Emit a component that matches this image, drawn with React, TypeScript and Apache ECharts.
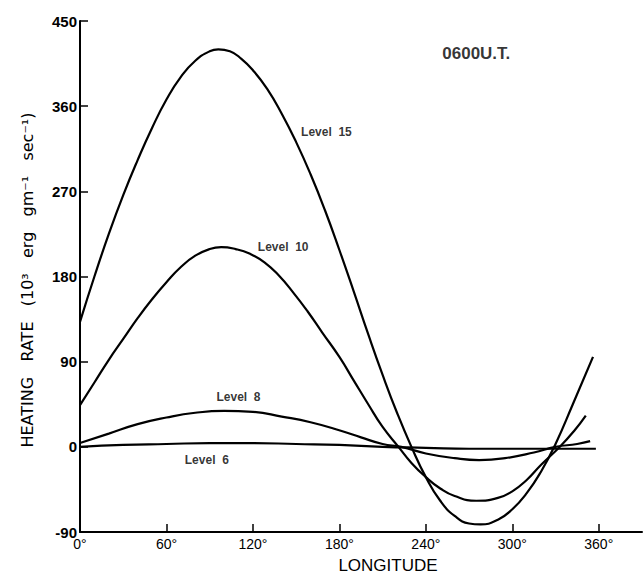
import React, { useEffect, useRef } from "react";
import * as echarts from "echarts";

const xTicks = [0, 60, 120, 180, 240, 300, 360];

const level15: [number, number][] = [
  [0, 132], [10, 180], [20, 225], [30, 266], [40, 303], [50, 337], [60, 367], [70, 391],
  [80, 408], [90, 418], [96, 420], [104, 418], [112, 410], [120, 398], [130, 378],
  [140, 352], [150, 322], [160, 288], [170, 250], [180, 208], [190, 164], [200, 119],
  [210, 76], [220, 36], [230, 0], [240, -32], [250, -57], [260, -73], [270, -81],
  [278, -82], [290, -77], [300, -66], [310, -49], [320, -26], [330, 3], [342, 45],
  [356, 95],
];

const level10: [number, number][] = [
  [0, 44], [10, 68], [20, 92], [30, 114], [40, 136], [50, 156], [60, 174], [70, 190],
  [80, 202], [90, 209], [98, 211], [108, 209], [118, 204], [128, 195], [138, 181],
  [148, 163], [158, 143], [168, 121], [180, 95], [190, 70], [200, 45], [210, 21],
  [221, 0], [230, -17], [240, -32], [250, -44], [260, -52], [275, -57], [290, -54],
  [300, -47], [310, -35], [320, -19], [333, 0], [343, 17], [351, 33],
];

const level8: [number, number][] = [
  [0, 4], [20, 14], [40, 24], [60, 31], [80, 36], [100, 38], [120, 37], [140, 32],
  [160, 26], [181, 17], [195, 10], [210, 3], [223, 0], [240, -7], [260, -12], [277, -14],
  [295, -12], [315, -6], [330, 0], [345, 3], [354, 6],
];

const level6: [number, number][] = [
  [0, 0], [30, 2], [60, 3], [90, 4], [120, 4], [150, 3], [180, 2], [210, 0], [240, -1],
  [270, -2], [300, -2], [330, -2], [358, -2],
];

const curveLabels = [
  { name: "Level  15", value: [171, 333] },
  { name: "Level  10", value: [141, 211] },
  { name: "Level  8", value: [110, 53] },
  { name: "Level  6", value: [88, -14] },
];
const titleLabel = [{ name: "0600U.T.", value: [275, 416] }];

const FONT = "Liberation Sans";

export default function App() {
  const ref = useRef<HTMLDivElement>(null);
  useEffect(() => {
    if (!ref.current) return;
    const chart = echarts.init(ref.current, null, { renderer: "svg" });
    const lineSeries = (name: string, data: [number, number][]) => ({
      type: "line",
      name,
      data,
      smooth: 0.5,
      showSymbol: false,
      symbol: "none",
      lineStyle: { color: "#000", width: 2.2 },
      silent: true,
    });
    chart.setOption({
      animation: false,
      backgroundColor: "#fff",
      grid: { left: 80, right: 2, top: 21, bottom: 49 },
      xAxis: {
        type: "value",
        min: 0,
        max: 390,
        interval: 60,
        axisLine: { show: true, onZero: false, lineStyle: { color: "#000", width: 2 } },
        axisTick: {
          show: true,
          inside: true,
          length: 8,
          customValues: xTicks,
          lineStyle: { color: "#000", width: 1.5 },
        },
        axisLabel: {
          customValues: xTicks,
          formatter: (v: number) => v + "°",
          color: "#000",
          fontFamily: FONT,
          fontSize: 14,
          margin: 5,
        },
        splitLine: { show: false },
      },
      yAxis: {
        type: "value",
        min: -90,
        max: 450,
        interval: 90,
        axisLine: { show: true, onZero: false, lineStyle: { color: "#000", width: 2 } },
        axisTick: { show: true, inside: true, length: 8, lineStyle: { color: "#000", width: 1.5 } },
        axisLabel: {
          color: "#000",
          fontFamily: FONT,
          fontSize: 15,
          fontWeight: "bold",
          margin: 3,
        },
        splitLine: { show: false },
      },
      graphic: [
        {
          type: "text",
          x: 27,
          y: 280,
          rotation: Math.PI / 2,
          style: {
            text: "HEATING   RATE   (10³   erg   gm⁻¹   sec⁻¹)",
            fontFamily: "DejaVu Sans",
            fontSize: 16,
            fill: "#000",
            align: "center",
            verticalAlign: "middle",
          },
        },
        {
          type: "text",
          x: 388,
          y: 565,
          style: {
            text: "LONGITUDE",
            fontFamily: FONT,
            fontSize: 17,
            fill: "#000",
            align: "center",
            verticalAlign: "middle",
          },
        },
      ],
      series: [
        lineSeries("Level 15", level15),
        lineSeries("Level 10", level10),
        lineSeries("Level 8", level8),
        lineSeries("Level 6", level6),
        {
          type: "scatter",
          data: curveLabels,
          symbolSize: 0,
          silent: true,
          label: {
            show: true,
            position: [0, 0],
            align: "center",
            verticalAlign: "middle",
            formatter: "{b}",
            color: "#000",
            fontFamily: FONT,
            fontSize: 12,
            fontWeight: "bold",
          },
        },
        {
          type: "scatter",
          data: titleLabel,
          symbolSize: 0,
          silent: true,
          label: {
            show: true,
            position: [0, 0],
            align: "center",
            verticalAlign: "middle",
            formatter: "{b}",
            color: "#000",
            fontFamily: FONT,
            fontSize: 17,
            fontWeight: "bold",
          },
        },
      ],
    });
    return () => chart.dispose();
  }, []);
  return (
    <div
      ref={ref}
      style={{ position: "absolute", left: 0, top: 0, width: 644, height: 581 }}
    />
  );
}
